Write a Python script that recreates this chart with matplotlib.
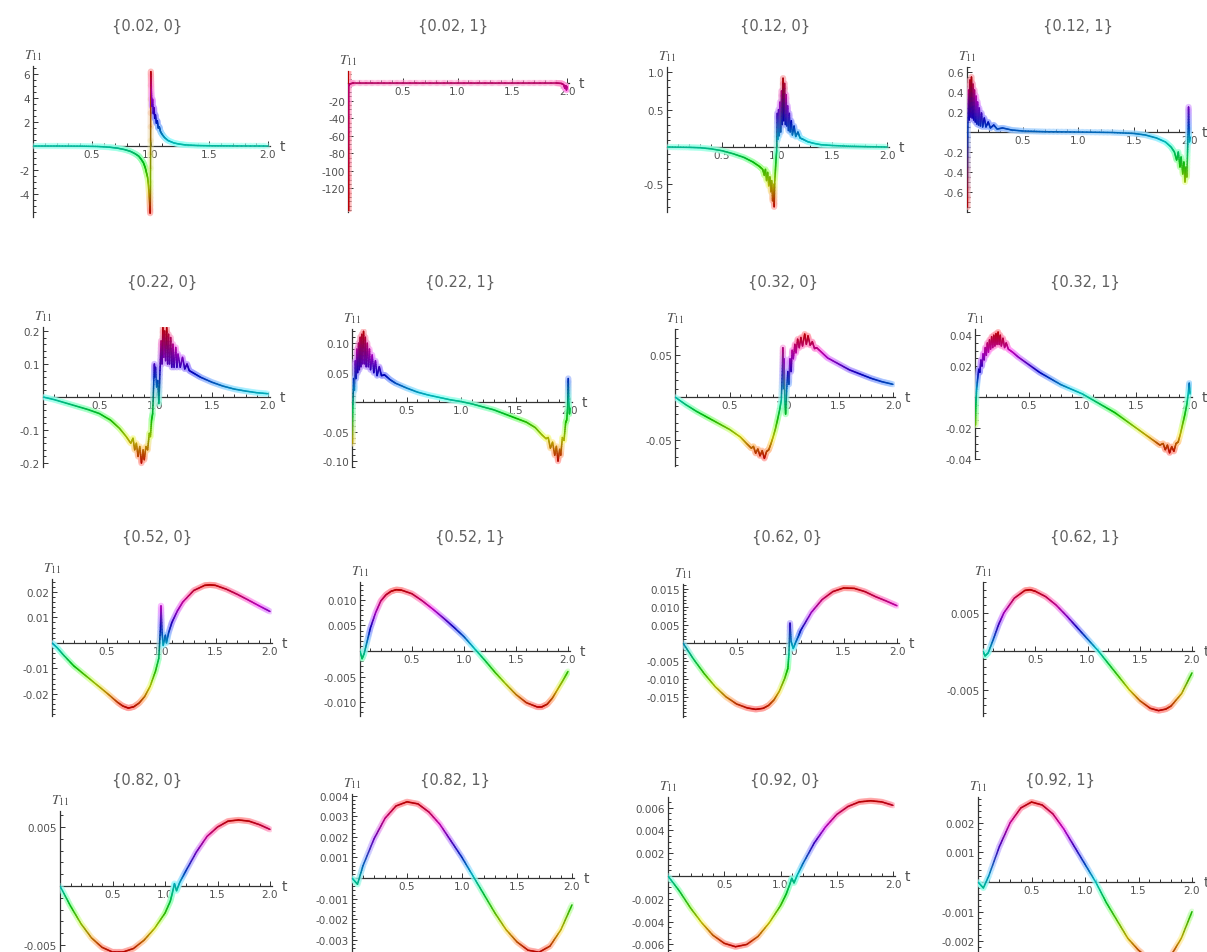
import numpy as np
import matplotlib.pyplot as plt
from matplotlib.collections import LineCollection
from matplotlib.colors import hsv_to_rgb

plt.rcParams['mathtext.fontset'] = 'stix'

W, H = 1207, 953

titles = ["{0.02, 0}", "{0.02, 1}", "{0.12, 0}", "{0.12, 1}",
          "{0.22, 0}", "{0.22, 1}", "{0.32, 0}", "{0.32, 1}",
          "{0.52, 0}", "{0.52, 1}", "{0.62, 0}", "{0.62, 1}",
          "{0.82, 0}", "{0.82, 1}", "{0.92, 0}", "{0.92, 1}"]

# (t, T11) samples for every parameter pair
T_002_0 = [(0, 0), (0.2, 0), (0.4, -0.01), (0.55, -0.04), (0.65, -0.1), (0.72, -0.18),
           (0.78, -0.3), (0.83, -0.45), (0.87, -0.65), (0.9, -0.85), (0.92, -1.1),
           (0.94, -1.4), (0.955, -1.8), (0.965, -2.2), (0.975, -2.6), (0.982, -3.2),
           (0.988, -4.0), (0.993, -4.8), (0.997, -5.6), (1.0, -3.0), (1.003, 6.2),
           (1.008, 4.5), (1.012, 3.3), (1.018, 3.9), (1.024, 2.7), (1.03, 3.2),
           (1.036, 2.3), (1.042, 2.6), (1.05, 1.9), (1.058, 2.1), (1.066, 1.5),
           (1.075, 1.6), (1.085, 1.2), (1.1, 0.95), (1.12, 0.7), (1.15, 0.45),
           (1.2, 0.25), (1.25, 0.15), (1.3, 0.09), (1.4, 0.04), (1.5, 0.02),
           (1.7, 0.01), (2.0, 0.0)]
T_002_1 = [(0, 0), (0.002, 14), (0.005, -145), (0.008, -3), (0.015, -1),
           (0.05, 0), (0.5, 0), (1.0, 0), (1.5, 0), (1.9, 0), (1.95, -0.5), (1.97, -2),
           (1.98, -6), (1.99, -3), (1.995, -8), (2.0, -4)]
T_012_0 = [(0, 0), (0.2, -0.005), (0.3, -0.01), (0.4, -0.025), (0.5, -0.05), (0.6, -0.09),
           (0.7, -0.14), (0.78, -0.2), (0.84, -0.26), (0.87, -0.3), (0.885, -0.38),
           (0.895, -0.3), (0.905, -0.45), (0.915, -0.34), (0.925, -0.52), (0.935, -0.4),
           (0.945, -0.6), (0.952, -0.45), (0.96, -0.72), (0.967, -0.5), (0.974, -0.8),
           (0.98, -0.45), (0.986, -0.3), (0.992, -0.15), (0.997, -0.05), (1.002, 0.45),
           (1.008, 0.1), (1.014, 0.5), (1.02, 0.15), (1.027, 0.6), (1.034, 0.2),
           (1.041, 0.75), (1.048, 0.3), (1.055, 0.92), (1.062, 0.35), (1.069, 0.85),
           (1.076, 0.3), (1.083, 0.7), (1.09, 0.28), (1.097, 0.55), (1.104, 0.22),
           (1.112, 0.45), (1.12, 0.2), (1.13, 0.35), (1.14, 0.16), (1.155, 0.28),
           (1.17, 0.14), (1.19, 0.2), (1.21, 0.12), (1.24, 0.1), (1.28, 0.07),
           (1.33, 0.05), (1.4, 0.03), (1.5, 0.02), (1.65, 0.01), (1.8, 0.005), (2.0, 0.0)]
T_012_1 = [(0, 0), (0.003, -0.75), (0.008, 0.05), (0.015, 0.42), (0.02, 0.12), (0.027, 0.52),
           (0.033, 0.15), (0.04, 0.55), (0.046, 0.14), (0.053, 0.48), (0.06, 0.12),
           (0.067, 0.42), (0.074, 0.1), (0.081, 0.36), (0.088, 0.08), (0.095, 0.3),
           (0.103, 0.07), (0.11, 0.24), (0.12, 0.06), (0.13, 0.19), (0.14, 0.05),
           (0.155, 0.14), (0.17, 0.05), (0.19, 0.1), (0.21, 0.04), (0.24, 0.07),
           (0.27, 0.03), (0.32, 0.04), (0.4, 0.02), (0.5, 0.01), (0.7, 0.003), (1.0, 0.0),
           (1.3, -0.005), (1.5, -0.015), (1.6, -0.03), (1.7, -0.06), (1.78, -0.1),
           (1.83, -0.15), (1.86, -0.2), (1.88, -0.28), (1.895, -0.2), (1.91, -0.35),
           (1.92, -0.25), (1.935, -0.42), (1.945, -0.3), (1.955, -0.5), (1.965, -0.35),
           (1.972, -0.45), (1.978, -0.2), (1.983, 0.0), (1.987, 0.25), (1.991, 0.05),
           (1.995, -0.1), (2.0, -0.05)]
T_022_0 = [(0, 0), (0.1, -0.008), (0.2, -0.018), (0.3, -0.028), (0.4, -0.038), (0.5, -0.05),
           (0.6, -0.07), (0.68, -0.095), (0.74, -0.12), (0.78, -0.14), (0.8, -0.125),
           (0.815, -0.16), (0.83, -0.14), (0.845, -0.18), (0.86, -0.15), (0.875, -0.2),
           (0.89, -0.16), (0.9, -0.19), (0.915, -0.15), (0.93, -0.16), (0.945, -0.11),
           (0.955, -0.12), (0.965, -0.07), (0.975, -0.05), (0.985, 0.05), (0.99, 0.1),
           (0.995, 0.06), (1.0, 0.09), (1.01, 0.03), (1.02, 0.05), (1.03, -0.02),
           (1.04, 0.08), (1.05, 0.17), (1.058, 0.1), (1.066, 0.21), (1.074, 0.12),
           (1.082, 0.2), (1.09, 0.11), (1.1, 0.21), (1.108, 0.1), (1.116, 0.19),
           (1.125, 0.1), (1.135, 0.18), (1.145, 0.09), (1.155, 0.16), (1.165, 0.09),
           (1.18, 0.15), (1.19, 0.09), (1.2, 0.13), (1.22, 0.09), (1.24, 0.12),
           (1.26, 0.085), (1.28, 0.1), (1.3, 0.08), (1.35, 0.07), (1.4, 0.06),
           (1.5, 0.045), (1.6, 0.033), (1.7, 0.024), (1.8, 0.018), (1.9, 0.013), (2.0, 0.01)]
T_022_1 = [(0, 0), (0.004, -0.07), (0.008, -0.01), (0.015, 0.04), (0.022, 0.02), (0.03, 0.07),
           (0.037, 0.04), (0.045, 0.09), (0.052, 0.05), (0.06, 0.1), (0.067, 0.055),
           (0.075, 0.11), (0.082, 0.06), (0.09, 0.115), (0.098, 0.065), (0.106, 0.12),
           (0.114, 0.065), (0.122, 0.11), (0.13, 0.06), (0.14, 0.1), (0.15, 0.06),
           (0.16, 0.09), (0.17, 0.055), (0.185, 0.08), (0.2, 0.05), (0.215, 0.07),
           (0.23, 0.045), (0.25, 0.06), (0.27, 0.045), (0.3, 0.046), (0.35, 0.038),
           (0.4, 0.032), (0.5, 0.024), (0.6, 0.017), (0.7, 0.012), (0.8, 0.008),
           (0.9, 0.004), (1.0, 0.001), (1.1, -0.003), (1.2, -0.008), (1.3, -0.013),
           (1.4, -0.02), (1.5, -0.027), (1.6, -0.034), (1.68, -0.043), (1.74, -0.055),
           (1.78, -0.062), (1.8, -0.06), (1.82, -0.078), (1.84, -0.068), (1.86, -0.09),
           (1.875, -0.075), (1.89, -0.1), (1.905, -0.08), (1.915, -0.09), (1.93, -0.06),
           (1.945, -0.065), (1.96, -0.035), (1.97, -0.03), (1.978, -0.01), (1.984, 0.04),
           (1.989, 0.0), (1.995, -0.02), (2.0, -0.01)]
T_032_0 = [(0, 0), (0.1, -0.009), (0.2, -0.017), (0.3, -0.024), (0.4, -0.031), (0.5, -0.038),
           (0.6, -0.047), (0.66, -0.055), (0.7, -0.06), (0.72, -0.058), (0.74, -0.066),
           (0.76, -0.061), (0.78, -0.069), (0.8, -0.063), (0.82, -0.072), (0.84, -0.064),
           (0.86, -0.062), (0.88, -0.055), (0.9, -0.047), (0.92, -0.038), (0.94, -0.027),
           (0.96, -0.015), (0.975, -0.004), (0.985, 0.03), (0.99, 0.058), (0.995, 0.01),
           (1.0, 0.045), (1.008, -0.005), (1.015, -0.02), (1.025, 0.01), (1.035, 0.03),
           (1.045, 0.015), (1.055, 0.045), (1.065, 0.03), (1.075, 0.055), (1.085, 0.045),
           (1.1, 0.062), (1.11, 0.052), (1.125, 0.068), (1.14, 0.058), (1.155, 0.07),
           (1.17, 0.06), (1.19, 0.074), (1.205, 0.062), (1.22, 0.072), (1.24, 0.061),
           (1.26, 0.065), (1.28, 0.057), (1.3, 0.058), (1.35, 0.052), (1.4, 0.046),
           (1.5, 0.039), (1.6, 0.032), (1.7, 0.027), (1.8, 0.022), (1.9, 0.018), (2.0, 0.015)]
T_032_1 = [(0, 0), (0.004, -0.018), (0.008, -0.006), (0.015, 0.005), (0.025, 0.012),
           (0.035, 0.018), (0.045, 0.016), (0.055, 0.024), (0.065, 0.02), (0.075, 0.028),
           (0.085, 0.024), (0.095, 0.032), (0.105, 0.027), (0.115, 0.035), (0.125, 0.029),
           (0.135, 0.037), (0.145, 0.031), (0.155, 0.039), (0.165, 0.032), (0.175, 0.04),
           (0.185, 0.033), (0.195, 0.041), (0.205, 0.034), (0.215, 0.042), (0.225, 0.034),
           (0.235, 0.04), (0.245, 0.033), (0.26, 0.038), (0.275, 0.032), (0.29, 0.035),
           (0.31, 0.031), (0.35, 0.029), (0.4, 0.026), (0.5, 0.021), (0.6, 0.016),
           (0.7, 0.012), (0.8, 0.008), (0.9, 0.005), (1.0, 0.002), (1.1, -0.002),
           (1.2, -0.006), (1.3, -0.01), (1.4, -0.015), (1.5, -0.02), (1.6, -0.025),
           (1.68, -0.029), (1.72, -0.031), (1.75, -0.03), (1.77, -0.034), (1.79, -0.031),
           (1.81, -0.036), (1.83, -0.032), (1.85, -0.035), (1.87, -0.03), (1.89, -0.029),
           (1.91, -0.024), (1.93, -0.018), (1.95, -0.012), (1.97, -0.005), (1.985, 0.003),
           (1.993, 0.009), (2.0, 0.002)]
T_052_0 = [(0, 0), (0.05, -0.002), (0.1, -0.0045), (0.2, -0.009), (0.3, -0.0125),
           (0.4, -0.016), (0.5, -0.0195), (0.6, -0.0232), (0.65, -0.0247), (0.7, -0.0255),
           (0.75, -0.025), (0.8, -0.0235), (0.85, -0.021), (0.9, -0.017), (0.95, -0.011),
           (0.98, -0.006), (0.995, 0.006), (1.0, 0.0145), (1.01, 0.004), (1.02, -0.001),
           (1.04, 0.003), (1.05, 0.0), (1.07, 0.004), (1.1, 0.008), (1.15, 0.0125),
           (1.2, 0.016), (1.3, 0.0205), (1.4, 0.0225), (1.45, 0.0227), (1.5, 0.0225),
           (1.6, 0.021), (1.7, 0.019), (1.8, 0.0168), (1.9, 0.0145), (2.0, 0.0123)]
T_052_1 = [(0, 0), (0.02, -0.0015), (0.04, -0.0005), (0.07, 0.002), (0.1, 0.0045),
           (0.15, 0.0075), (0.2, 0.0098), (0.25, 0.011), (0.3, 0.0117), (0.35, 0.012),
           (0.4, 0.0119), (0.5, 0.0112), (0.6, 0.0098), (0.7, 0.0082), (0.8, 0.0065),
           (0.9, 0.0047), (1.0, 0.0028), (1.1, 0.0005), (1.2, -0.0018), (1.3, -0.0042),
           (1.4, -0.0064), (1.5, -0.0085), (1.6, -0.0101), (1.7, -0.0109), (1.75, -0.0109),
           (1.8, -0.0104), (1.85, -0.0092), (1.9, -0.0075), (1.95, -0.0058), (2.0, -0.004)]
T_062_0 = [(0, 0), (0.1, -0.0045), (0.2, -0.0085), (0.3, -0.012), (0.4, -0.0148),
           (0.5, -0.0168), (0.6, -0.0179), (0.68, -0.0183), (0.75, -0.018), (0.8, -0.0172),
           (0.85, -0.0157), (0.9, -0.0133), (0.95, -0.0098), (0.98, -0.007), (0.99, -0.003),
           (1.0, 0.0055), (1.01, 0.0005), (1.03, -0.0015), (1.05, 0.0), (1.08, 0.002),
           (1.1, 0.0035), (1.2, 0.0085), (1.3, 0.012), (1.4, 0.0142), (1.5, 0.0152),
           (1.6, 0.0151), (1.7, 0.0142), (1.8, 0.0128), (1.9, 0.0116), (2.0, 0.0103)]
T_062_1 = [(0, 0), (0.02, -0.0006), (0.05, -0.0002), (0.1, 0.0016), (0.15, 0.0035),
           (0.2, 0.005), (0.3, 0.0069), (0.4, 0.0079), (0.45, 0.008), (0.5, 0.0078),
           (0.6, 0.0071), (0.7, 0.006), (0.8, 0.0046), (0.9, 0.0031), (1.0, 0.0016),
           (1.1, 0.0001), (1.2, -0.0016), (1.3, -0.0033), (1.4, -0.005), (1.5, -0.0064),
           (1.6, -0.0074), (1.68, -0.0077), (1.75, -0.0075), (1.8, -0.0071), (1.9, -0.0055),
           (2.0, -0.0028)]
T_082_0 = [(0, 0), (0.1, -0.0017), (0.2, -0.0032), (0.3, -0.0044), (0.4, -0.0052),
           (0.5, -0.0056), (0.6, -0.0056), (0.7, -0.0053), (0.8, -0.0046), (0.9, -0.0036),
           (1.0, -0.0023), (1.05, -0.0013), (1.07, -0.0006), (1.09, 0.0002), (1.11, -0.0004),
           (1.14, 0.0003), (1.2, 0.0013), (1.3, 0.0029), (1.4, 0.0042), (1.5, 0.005),
           (1.6, 0.0055), (1.7, 0.0056), (1.8, 0.0055), (1.9, 0.0052), (2.0, 0.0048)]
T_082_1 = [(0, 0), (0.05, -0.0003), (0.1, 0.0006), (0.2, 0.0019), (0.3, 0.0029),
           (0.4, 0.0035), (0.5, 0.0037), (0.6, 0.0036), (0.7, 0.0032), (0.8, 0.0026),
           (0.9, 0.0018), (1.0, 0.001), (1.1, 0.0001), (1.2, -0.0008), (1.3, -0.0017),
           (1.4, -0.0025), (1.5, -0.0031), (1.6, -0.0035), (1.7, -0.0036), (1.8, -0.0033),
           (1.9, -0.0025), (2.0, -0.0013)]
T_092_0 = [(0, 0), (0.1, -0.0013), (0.2, -0.0028), (0.3, -0.0041), (0.4, -0.0052),
           (0.5, -0.0059), (0.6, -0.0062), (0.7, -0.006), (0.8, -0.0053), (0.9, -0.0041),
           (1.0, -0.0026), (1.05, -0.0016), (1.08, -0.0008), (1.1, -0.0002), (1.12, -0.0006),
           (1.15, 0.0001), (1.2, 0.0011), (1.3, 0.0029), (1.4, 0.0043), (1.5, 0.0054),
           (1.6, 0.0061), (1.7, 0.0065), (1.8, 0.0066), (1.9, 0.0065), (2.0, 0.0062)]
T_092_1 = [(0, 0), (0.05, -0.0002), (0.1, 0.0002), (0.2, 0.0012), (0.3, 0.002),
           (0.4, 0.0025), (0.5, 0.0027), (0.6, 0.0026), (0.7, 0.0023), (0.8, 0.0018),
           (0.9, 0.0012), (1.0, 0.0006), (1.1, 0.0), (1.2, -0.0007), (1.3, -0.0013),
           (1.4, -0.0019), (1.5, -0.0023), (1.6, -0.0026), (1.7, -0.0027), (1.8, -0.0025),
           (1.9, -0.0019), (2.0, -0.001)]

curves = [T_002_0, T_002_1, T_012_0, T_012_1, T_022_0, T_022_1, T_032_0, T_032_1,
          T_052_0, T_052_1, T_062_0, T_062_1, T_082_0, T_082_1, T_092_0, T_092_1]

ytick_labels = [
    ["-4", "-2", "2", "4", "6"],
    ["-120", "-100", "-80", "-60", "-40", "-20"],
    ["-0.5", "0.5", "1.0"],
    ["-0.6", "-0.4", "-0.2", "0.2", "0.4", "0.6"],
    ["-0.2", "-0.1", "0.1", "0.2"],
    ["-0.10", "-0.05", "0.05", "0.10"],
    ["-0.05", "0.05"],
    ["-0.04", "-0.02", "0.02", "0.04"],
    ["-0.02", "-0.01", "0.01", "0.02"],
    ["-0.010", "-0.005", "0.005", "0.010"],
    ["-0.015", "-0.010", "-0.005", "0.005", "0.010", "0.015"],
    ["-0.005", "0.005"],
    ["-0.005", "0.005"],
    ["-0.003", "-0.002", "-0.001", "0.001", "0.002", "0.003", "0.004"],
    ["-0.006", "-0.004", "-0.002", "0.002", "0.004", "0.006"],
    ["-0.002", "-0.001", "0.001", "0.002"],
]
xtick_labels = ["0.5", "1.0", "1.5", "2.0"]

# plot ranges of each panel
yranges = [(-5.92, 6.67), (-147, 13.7), (-0.87, 1.07), (-0.8, 0.65),
           (-0.212, 0.212), (-0.11, 0.124), (-0.081, 0.08), (-0.0375, 0.044),
           (-0.0286, 0.025), (-0.0127, 0.0135), (-0.0204, 0.0163), (-0.0084, 0.009),
           (-0.00602, 0.00636), (-0.00383, 0.00408), (-0.0071, 0.00693), (-0.00253, 0.00287)]
minor_steps = [0.5, 5, 0.1, 0.05, 0.02, 0.01, 0.01, 0.005,
               0.002, 0.001, 0.001, 0.001, 0.001, 0.0002, 0.0005, 0.0002]

# pixel frame of each panel: x at t=0, x at t=2, top, bottom
frames = [(33, 268, 67, 218), (348, 567, 72, 213), (667, 887, 68, 213), (967, 1190, 68, 213),
          (43, 268, 328, 468), (352, 570, 330, 468), (675, 893, 330, 467), (975, 1190, 330, 460),
          (52, 270, 580, 717), (360, 568, 583, 717), (683, 897, 585, 718), (983, 1192, 583, 717),
          (60, 270, 812, 958), (352, 572, 795, 958), (668, 893, 798, 958), (978, 1192, 798, 958)]
title_xy = [(147, 26), (453, 26), (775, 26), (1078, 26),
            (162, 282), (460, 282), (783, 282), (1085, 282),
            (157, 537), (470, 537), (787, 537), (1085, 537),
            (147, 780), (455, 780), (785, 780), (1060, 780)]

TMAX = 2.02
ink = '#333333'
text_col = '#505050'


def rainbow_curve(ax, pts):
    t, y = np.asarray(pts, float).T
    h = (y - y.min()) / (y.max() - y.min())
    one = np.ones_like(h)
    core_pt = hsv_to_rgb(np.column_stack([h, one, 0.72 * one]))
    glow_pt = hsv_to_rgb(np.column_stack([h, 0.4 * one, one]))
    # colours blend between neighbouring samples along each straight piece
    frac = np.linspace(0, 1, 9)
    segs, core, glow = [], [], []
    for i in range(len(t) - 1):
        ts = t[i] + (t[i + 1] - t[i]) * frac
        ys = y[i] + (y[i + 1] - y[i]) * frac
        for k in range(len(frac) - 1):
            f = 0.5 * (frac[k] + frac[k + 1])
            segs.append([(ts[k], ys[k]), (ts[k + 1], ys[k + 1])])
            core.append(core_pt[i] * (1 - f) + core_pt[i + 1] * f)
            glow.append(glow_pt[i] * (1 - f) + glow_pt[i + 1] * f)
    ax.add_collection(LineCollection(segs, colors=glow, linewidths=4.5, alpha=0.4,
                                     capstyle='round', zorder=3))
    ax.add_collection(LineCollection(segs, colors=core, linewidths=1.1,
                                     capstyle='round', zorder=4))


fig = plt.figure(figsize=(W / 100, H / 100), dpi=100)

for i in range(16):
    x0, x2, top, bot = frames[i]
    lo, hi = yranges[i]
    width = (x2 - x0) * TMAX / 2.0
    ax = fig.add_axes([x0 / W, 1 - bot / H, width / W, (bot - top) / H])
    ax.set_xlim(0, TMAX)
    ax.set_ylim(lo, hi)
    ax.patch.set_visible(False)
    for s in ('top', 'right'):
        ax.spines[s].set_visible(False)
    ax.spines['bottom'].set_position(('data', 0))
    ax.spines['left'].set_position(('data', 0))
    for s in ('bottom', 'left'):
        ax.spines[s].set_color(ink)
        ax.spines[s].set_linewidth(0.9)

    ax.set_xticks([float(s) for s in xtick_labels], xtick_labels)
    ax.set_xticks([v for v in np.arange(0.1, 2.0, 0.1) if abs(v * 2 - round(v * 2)) > 1e-6],
                  minor=True)
    yt = [float(s) for s in ytick_labels[i]]
    ax.set_yticks(yt, ytick_labels[i])
    step = minor_steps[i]
    grid = np.arange(np.ceil(lo / step), np.floor(hi / step) + 1) * step
    ax.set_yticks([v for v in grid
                   if abs(v) > step / 2 and min(abs(v - m) for m in yt) > step / 2], minor=True)
    ax.tick_params(which='both', direction='in', color=ink, width=0.7,
                   labelsize=7.5, labelcolor=text_col, pad=2)
    ax.tick_params(which='major', length=3.5)
    ax.tick_params(which='minor', length=2)

    rainbow_curve(ax, curves[i])

    ax.annotate('t', xy=(TMAX, 0), xytext=(7, 0), textcoords='offset points',
                ha='left', va='center', fontsize=10, color=text_col,
                annotation_clip=False)
    ax.annotate('$T_{11}$', xy=(0, hi), xytext=(0, 3), textcoords='offset points',
                ha='center', va='bottom', fontsize=10, color=text_col,
                annotation_clip=False)

    tx, ty = title_xy[i]
    fig.text(tx / W, 1 - ty / H, titles[i], ha='center', va='center',
             fontsize=10.5, color='#606060')

fig.savefig('out.png', dpi=100)
